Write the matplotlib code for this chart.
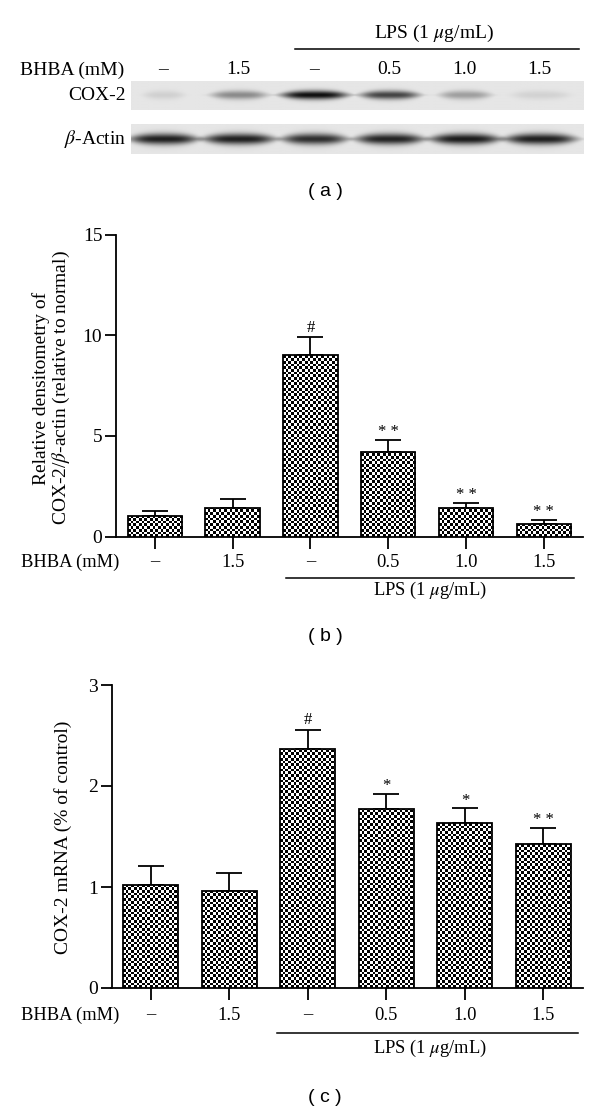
import numpy as np
import matplotlib
matplotlib.use('Agg')
import matplotlib.pyplot as plt

plt.rcParams['font.family'] = ['Liberation Serif', 'DejaVu Serif']
plt.rcParams['mathtext.fontset'] = 'stix'

# ---------------- data ----------------
lane_labels = ['\u2013', '1.5', '\u2013', '0.5', '1.0', '1.5']
cox2_band = [0.10, 0.42, 1.00, 0.75, 0.33, 0.09]
actin_band = [0.95, 0.95, 0.88, 0.93, 0.97, 0.95]

b_means = [1.03, 1.40, 9.01, 4.22, 1.40, 0.62]
b_errs = [0.24, 0.48, 0.93, 0.58, 0.28, 0.22]
b_marks = ['', '', '#', '* *', '* *', '* *']
b_yticks = [0, 5, 10, 15]

c_means = [1.02, 0.96, 2.37, 1.77, 1.63, 1.43]
c_errs = [0.19, 0.18, 0.18, 0.15, 0.155, 0.15]
c_marks = ['', '', '#', '*', '*', '* *']
c_yticks = [0, 1, 2, 3]

lps_text = r'LPS (1 $\mu$g/mL)'

# ---------------- layout helpers ----------------
W, H = 600, 1110
fig = plt.figure(figsize=(W / 100, H / 100), dpi=100)
fig.patch.set_facecolor('white')


def px_axes(x0, y0, x1, y1):
    return fig.add_axes([x0 / W, 1 - y1 / H, (x1 - x0) / W, (y1 - y0) / H])


def ftext(x, y, s, **kw):
    return fig.text(x / W, 1 - y / H, s, **kw)


FS_A = 14.0
FS = 13.3
FS_Y = 14.0
PT = 72 / 100.0  # points per pixel

# ---------------- panel (a): western blots ----------------
XL = (-0.43, 5.57)


def draw_blot(ax, intens, halfw, halfh, dark):
    ax.set_xlim(*XL)
    ax.set_ylim(-1, 1)
    xs = np.linspace(XL[0], XL[1], 460)
    ys = np.linspace(-1, 1, 40)
    X, Y = np.meshgrid(xs, ys)
    img = np.full_like(X, 0.90)
    for i, v in enumerate(intens):
        dx = X - i
        taper = np.sqrt(np.clip(1 - (dx / (1.25 * halfw[i])) ** 2, 0.05, 1))
        prof = np.exp(-(dx / halfw[i]) ** 4) * np.exp(-(Y / (halfh * taper)) ** 2)
        img = img - v * dark * prof
    img = np.clip(img, 0, 1)
    ax.imshow(img, cmap='gray', vmin=0, vmax=1, extent=(XL[0], XL[1], -1, 1),
              aspect='auto', interpolation='bilinear', origin='lower')
    ax.set_axis_off()


ax_cox = px_axes(130.7, 80.7, 582.7, 110.0)
draw_blot(ax_cox, cox2_band, [0.26, 0.36, 0.43, 0.38, 0.33, 0.37], 0.30, 0.85)
ax_act = px_axes(130.7, 124.0, 582.7, 154.0)
draw_blot(ax_act, actin_band, [0.44, 0.46, 0.42, 0.44, 0.45, 0.46], 0.38, 0.82)

ftext(126, 95, 'COX-2', ha='right', va='center', fontsize=FS_A)
ftext(126, 139, r'$\beta$-Actin', ha='right', va='center', fontsize=FS_A)
ftext(72, 70, 'BHBA (mM)', ha='center', va='center', fontsize=FS_A)
for i, lab in enumerate(lane_labels):
    ax_cox.annotate(lab, xy=(i, 1), xycoords=('data', 'axes fraction'),
                    xytext=(0, (80.7 - 70) * PT), textcoords='offset points',
                    ha='center', va='center', fontsize=FS_A, annotation_clip=False)
ax_cox.plot([1.75, 5.52], [1 + (80.7 - 49.3) / 29.3] * 2, color='black', lw=1.1,
            transform=ax_cox.get_xaxis_transform(), clip_on=False)
ax_cox.text(3.6, 1 + (80.7 - 33) / 29.3, lps_text, ha='center', va='center',
            fontsize=FS_A, transform=ax_cox.get_xaxis_transform())
ftext(325, 191.7, '( a )', ha='center', va='center', fontsize=14,
      family=['Liberation Sans', 'DejaVu Sans'])

# ---------------- bar panels ----------------
CELL = 2.7  # checker cell size in pixels


def bar_panel(ax, means, errs, marks, yticks, ax_w_px, ax_h_px, capsize,
              mark_off):
    n = len(means)
    x = np.arange(n)
    ymax = yticks[-1]
    ax.set_xlim(-0.5, n - 0.5)
    ax.set_ylim(0, ymax)
    pxx = ax_w_px / n
    pxy = ax_h_px / ymax
    bars = ax.bar(x, means, width=0.70, facecolor='none', edgecolor='black',
                  linewidth=1.3, zorder=4)
    for rect in bars:
        x0, w, h = rect.get_x(), rect.get_width(), rect.get_height()
        cw, ch = CELL / pxx, CELL / pxy
        nx = int(np.ceil(w / cw))
        ny = int(np.ceil(h / ch))
        board = np.add.outer(np.arange(ny), np.arange(nx)) % 2
        im = ax.imshow(board, cmap='gray', vmin=0, vmax=1, origin='lower',
                       extent=(x0, x0 + nx * cw, 0, ny * ch), aspect='auto',
                       interpolation='nearest', zorder=3)
        im.set_clip_path(rect)
    ax.errorbar(x, means, yerr=[np.zeros(n), errs], fmt='none', ecolor='black',
                elinewidth=1.3, capsize=capsize, capthick=1.3, zorder=2)
    for i, m in enumerate(marks):
        if m:
            ax.annotate(m, xy=(i, means[i] + errs[i]), xytext=(0, mark_off[i] * PT),
                        textcoords='offset points', ha='center', va='center',
                        fontsize=12)
    ax.set_xlim(-0.5, n - 0.5)
    ax.set_ylim(0, ymax)
    for s in ['top', 'right']:
        ax.spines[s].set_visible(False)
    for s in ['left', 'bottom']:
        ax.spines[s].set_linewidth(1.3)
    ax.set_yticks(yticks)
    ax.set_yticklabels([str(t) for t in yticks], fontsize=FS_Y)
    ax.tick_params(axis='y', direction='out', length=11 * PT, width=1.3, pad=2)
    ax.set_xticks(x)
    ax.set_xticklabels([])
    ax.tick_params(axis='x', direction='out', length=12 * PT, width=1.3)
    ax.set_facecolor('none')
    return x


def x_row(ax, ax_h_px, row_dy, line_dy, text_dy, line_x, text_x):
    for i, lab in enumerate(lane_labels):
        ax.annotate(lab, xy=(i, 0), xycoords=('data', 'axes fraction'),
                    xytext=(0, -row_dy * PT), textcoords='offset points',
                    ha='center', va='center', fontsize=FS, annotation_clip=False)
    ax.plot(line_x, [-line_dy / ax_h_px] * 2, color='black', lw=1.1,
            transform=ax.get_xaxis_transform(), clip_on=False)
    ax.text(text_x, -text_dy / ax_h_px, lps_text, ha='center', va='center',
            fontsize=FS, transform=ax.get_xaxis_transform())


# panel (b)
bx0, by0, bx1, by1 = 116.0, 234.7, 582.7, 536.5
ax_b = px_axes(bx0, by0, bx1, by1)
bar_panel(ax_b, b_means, b_errs, b_marks, b_yticks, bx1 - bx0, by1 - by0,
          capsize=9.6, mark_off=[0, 0, 9, 8, 8, 8])
x_row(ax_b, by1 - by0, 25.5, 41.2, 53.5, [1.69, 5.39], 3.54)
ftext(70, 562, 'BHBA (mM)', ha='center', va='center', fontsize=FS)
ftext(52, 388, 'Relative densitometry of\nCOX-2/$\\beta$-actin (relative to normal)',
      rotation=90, ha='center', va='center', fontsize=FS_Y, linespacing=1.05,
      multialignment='center')
ftext(325, 636.7, '( b )', ha='center', va='center', fontsize=14,
      family=['Liberation Sans', 'DejaVu Sans'])

# panel (c)
cx0, cy0, cx1, cy1 = 111.5, 685.0, 582.7, 988.0
ax_c = px_axes(cx0, cy0, cx1, cy1)
bar_panel(ax_c, c_means, c_errs, c_marks, c_yticks, cx1 - cx0, cy1 - cy0,
          capsize=9.6, mark_off=[0, 0, 10, 8, 7, 8])
x_row(ax_c, cy1 - cy0, 27, 44.7, 60, [1.61, 5.44], 3.56)
ftext(70, 1015, 'BHBA (mM)', ha='center', va='center', fontsize=FS)
ftext(63.5, 837, 'COX-2 mRNA (% of control)', rotation=90, ha='center',
      va='center', fontsize=FS_Y)
ftext(325, 1098, '( c )', ha='center', va='center', fontsize=14,
      family=['Liberation Sans', 'DejaVu Sans'])

fig.savefig('out.png', dpi=100, facecolor='white')
